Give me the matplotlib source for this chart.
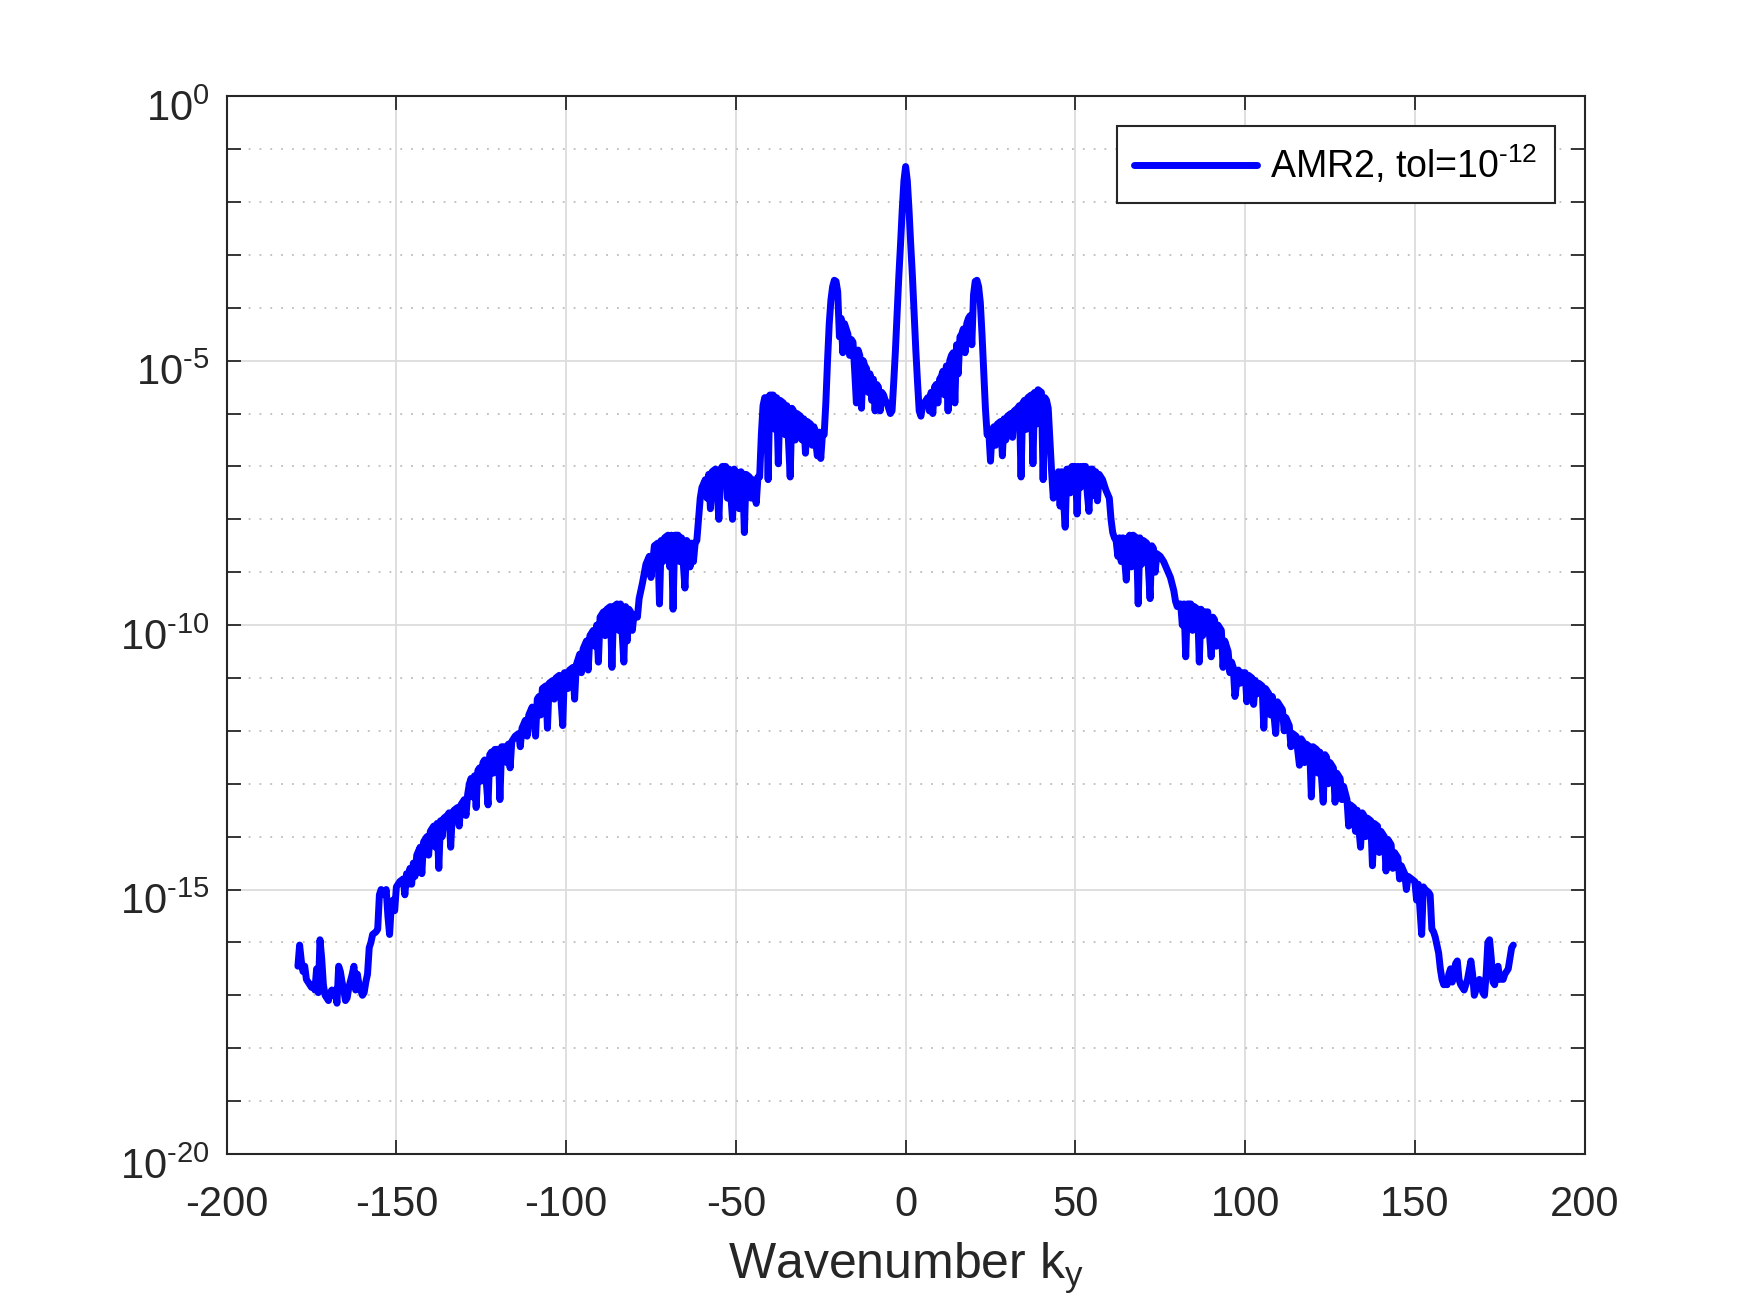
import numpy as np
import matplotlib
matplotlib.use("Agg")
import matplotlib.pyplot as plt
import matplotlib.transforms as mtransforms
from matplotlib.ticker import FixedLocator, NullFormatter

plt.rcParams["font.family"] = ["Liberation Sans", "DejaVu Sans"]
plt.rcParams["mathtext.fontset"] = "custom"
plt.rcParams["mathtext.rm"] = "Liberation Sans"
plt.rcParams["mathtext.it"] = "Liberation Sans"
plt.rcParams["mathtext.default"] = "regular"
plt.rcParams["axes.unicode_minus"] = False

# spectrum: wavenumber and log10(amplitude)
k_left = [
    -179.0, -178.5, -178.0, -177.5, -177.0, -176.5, -176.0, -175.0, -174.5, -174.0,
    -173.5, -173.0, -172.5, -172.0, -171.5, -171.0, -170.0, -169.5, -169.0, -168.5,
    -168.0, -167.5, -167.0, -166.5, -166.0, -165.5, -165.0, -164.5, -164.0, -163.0,
    -162.5, -162.0, -161.5, -161.0, -160.0, -159.5, -159.0, -158.5, -158.0, -157.5,
    -157.0, -156.0, -155.5, -155.0, -154.5, -154.0, -153.5, -153.0, -152.5, -152.0,
    -151.5, -151.0, -150.5, -150.0, -149.0, -148.0, -147.0, -146.5, -146.0, -145.0,
    -144.5, -144.0, -143.0, -142.5, -142.0, -141.0, -140.5, -140.0, -139.0, -138.5,
    -138.0, -137.5, -137.0, -136.0, -135.0, -134.5, -134.0, -133.5, -133.0, -132.0,
    -131.0, -130.0, -129.0, -128.5, -128.0, -127.5, -127.0, -126.5, -126.0, -125.5,
    -125.0, -124.5, -124.0, -123.0, -122.5, -122.0, -121.0, -120.0, -119.5, -119.0,
    -118.0, -117.0, -116.5, -116.0, -115.0, -114.0, -113.0, -112.0, -111.5, -111.0,
    -110.0, -109.0, -108.5, -108.0, -107.0, -106.0, -105.5, -105.0, -104.0, -103.0,
    -102.0, -101.0, -100.5, -100.0, -99.0, -98.0, -97.5, -97.0, -96.0, -95.0,
    -94.0, -93.5, -93.0, -92.0, -91.0, -90.5, -90.0, -89.0, -88.0, -87.0,
    -86.5, -86.0, -85.0, -84.0, -83.0, -82.5, -82.0, -81.5, -81.0, -80.0,
    -79.0, -78.5, -77.5, -76.5, -75.5, -75.0, -74.0, -73.0, -72.5, -72.0,
    -71.0, -70.0, -69.0, -68.5, -68.0, -67.0, -66.0, -65.0, -64.5, -64.0,
    -63.5, -63.0, -62.0, -61.5, -61.0, -60.5, -60.0, -59.0, -58.0, -57.5,
    -57.0, -56.0, -55.0, -54.5, -54.0, -53.0, -52.0, -51.0, -50.5, -50.0,
    -49.0, -48.5, -48.0, -47.5, -47.0, -46.0, -45.0, -44.0, -43.5, -43.0,
    -42.5, -42.0, -41.5, -41.0, -40.5, -40.0, -39.0, -38.0, -37.5, -37.0,
    -36.0, -35.0, -34.0, -33.5, -33.0, -32.0, -31.0, -30.0, -29.5, -29.0,
    -28.0, -27.0, -26.0, -25.5, -25.0, -24.5, -24.0, -23.5, -23.0, -22.5,
    -22.0, -21.5, -21.0, -20.5, -20.0, -19.5, -19.0, -18.5, -18.0, -17.5,
    -17.0, -16.5, -16.0, -15.5, -15.0, -14.5, -14.0, -13.5, -13.0, -12.5,
    -12.0, -11.5, -11.0, -10.5, -10.0, -9.5, -9.0, -8.5, -8.0, -7.5,
    -7.0, -6.5, -6.0, -5.5, -5.0, -4.5, -4.0, -3.5, -3.0, -2.5,
    -2.0, -1.5, -1.0, -0.5, 0.0,
]
log_left = [
    -16.45, -16.05, -16.35, -16.55, -16.45, -16.7, -16.75, -16.85, -16.8, -16.9,
    -16.5, -16.95, -15.95, -16.3, -16.8, -17.0, -17.1, -16.95, -16.9, -17.0,
    -16.9, -17.15, -16.45, -16.55, -16.75, -16.9, -17.1, -17.05, -16.85, -16.6,
    -16.45, -16.9, -16.6, -16.8, -17.0, -16.95, -16.75, -16.6, -16.1, -16.0,
    -15.85, -15.8, -15.75, -15.1, -15.0, -15.05, -15.1, -15.0, -15.5, -15.85,
    -15.3, -15.2, -15.4, -14.95, -14.85, -14.8, -14.7, -14.9, -14.6, -14.5,
    -14.75, -14.35, -14.2, -14.7, -14.1, -14.0, -14.35, -13.9, -13.8, -14.2,
    -13.75, -14.6, -13.7, -13.65, -13.6, -13.55, -14.2, -13.55, -13.5, -13.45,
    -13.4, -13.3, -13.2, -13.0, -12.9, -13.25, -12.85, -13.45, -12.75, -12.7,
    -12.95, -12.6, -12.55, -13.4, -12.45, -12.4, -12.35, -12.35, -13.3, -12.3,
    -12.3, -12.25, -12.7, -12.2, -12.1, -12.05, -11.95, -11.8, -12.1, -11.7,
    -11.55, -12.1, -11.4, -11.35, -11.2, -11.15, -11.95, -11.1, -11.05, -11.0,
    -10.95, -11.9, -10.9, -10.9, -10.85, -10.8, -11.4, -10.75, -10.55, -10.45,
    -10.3, -10.85, -10.2, -10.1, -10.0, -10.7, -9.85, -9.75, -9.7, -9.65,
    -10.8, -9.65, -9.6, -9.6, -10.7, -9.65, -10.3, -9.7, -9.75, -9.8,
    -9.85, -9.5, -9.2, -8.85, -8.7, -9.1, -8.5, -8.45, -9.6, -8.4,
    -8.35, -8.3, -8.3, -9.7, -8.3, -8.3, -8.35, -9.3, -8.4, -8.45,
    -8.9, -8.45, -8.45, -8.4, -8.0, -7.6, -7.4, -7.25, -7.15, -7.8,
    -7.1, -7.05, -8.0, -7.05, -7.0, -7.0, -7.05, -8.0, -7.05, -7.1,
    -7.8, -7.1, -7.15, -8.25, -7.15, -7.2, -7.25, -7.7, -7.2, -7.2,
    -6.4, -5.85, -5.7, -5.7, -7.25, -5.65, -5.65, -5.7, -6.95, -5.75,
    -5.8, -5.85, -7.2, -5.9, -5.95, -6.0, -6.05, -6.1, -6.75, -6.15,
    -6.2, -6.25, -6.8, -6.35, -6.85, -6.4, -6.4, -5.8, -5.0, -4.3,
    -3.85, -3.6, -3.48, -3.5, -3.7, -4.55, -4.2, -4.85, -4.3, -4.4,
    -4.5, -4.9, -4.6, -4.65, -5.2, -5.8, -4.8, -4.9, -5.9, -5.0,
    -5.1, -5.15, -5.6, -5.25, -5.75, -5.35, -5.95, -5.45, -5.5, -5.95,
    -5.6, -5.65, -5.75, -5.8, -5.9, -6.0, -5.95, -5.4, -4.8, -4.1,
    -3.4, -2.8, -2.15, -1.6, -1.33,
]
k_right = [
    0.5, 1.0, 1.5, 2.0, 2.5, 3.0, 3.5, 4.0, 4.5, 5.0,
    5.5, 6.0, 6.5, 7.0, 7.5, 8.0, 8.5, 9.0, 9.5, 10.0,
    10.5, 11.0, 11.5, 12.0, 12.5, 13.0, 13.5, 14.0, 14.5, 15.0,
    15.5, 16.0, 16.5, 17.0, 17.5, 18.0, 18.5, 19.0, 19.5, 20.0,
    20.5, 21.0, 21.5, 22.0, 22.5, 23.0, 23.5, 24.0, 24.5, 25.0,
    25.5, 26.0, 27.0, 28.0, 28.5, 29.0, 30.0, 31.0, 32.0, 33.0,
    33.5, 34.0, 34.5, 35.0, 36.0, 37.0, 37.5, 38.0, 39.0, 40.0,
    40.5, 41.0, 41.5, 42.0, 42.5, 43.0, 43.5, 44.0, 45.0, 45.5,
    46.0, 47.0, 47.5, 48.0, 49.0, 50.0, 50.5, 51.0, 52.0, 53.0,
    54.0, 54.5, 55.0, 56.0, 56.5, 57.0, 58.0, 59.0, 60.0, 60.5,
    61.0, 61.5, 62.0, 62.5, 63.0, 64.0, 65.0, 65.5, 66.0, 67.0,
    68.0, 68.5, 69.0, 70.0, 71.0, 72.0, 72.5, 73.0, 74.0, 75.0,
    76.0, 77.0, 78.0, 79.0, 79.5, 80.0, 80.5, 81.0, 82.0, 82.5,
    83.0, 84.0, 85.0, 86.0, 86.5, 87.0, 88.0, 89.0, 90.0, 90.5,
    91.0, 92.0, 93.0, 93.5, 94.0, 95.0, 96.0, 96.5, 97.0, 98.0,
    99.0, 100.0, 100.5, 101.0, 102.0, 103.0, 104.0, 105.0, 105.5, 106.0,
    107.0, 108.0, 109.0, 109.5, 110.0, 111.0, 112.0, 113.0, 114.0, 115.0,
    116.0, 116.5, 117.0, 118.0, 119.0, 119.5, 120.0, 121.0, 122.0, 123.0,
    123.5, 124.0, 125.0, 126.0, 126.5, 127.0, 128.0, 129.0, 130.0, 131.0,
    132.0, 133.0, 134.0, 134.5, 135.0, 136.0, 137.0, 137.5, 138.0, 139.0,
    140.0, 141.0, 141.5, 142.0, 143.0, 144.0, 145.0, 146.0, 147.0, 148.0,
    149.0, 150.0, 150.5, 151.0, 152.0, 152.5, 153.0, 154.0, 154.5, 155.0,
    155.5, 156.0, 157.0, 157.5, 158.0, 158.5, 159.0, 159.5, 160.0, 160.5,
    161.0, 162.0, 162.5, 163.0, 163.5, 164.0, 164.5, 165.5, 166.5, 167.0,
    167.5, 168.0, 169.0, 169.5, 170.0, 170.5, 171.0, 171.5, 172.0, 172.5,
    173.0, 173.5, 174.0, 174.5, 175.0, 175.5, 176.0, 176.5, 177.0, 177.5,
    178.0, 178.5, 179.0,
]
log_right = [
    -1.6, -2.15, -2.8, -3.4, -4.1, -4.8, -5.4, -5.95, -6.05, -5.85,
    -5.8, -5.75, -5.7, -5.95, -5.6, -6.0, -5.5, -5.45, -5.8, -5.35,
    -5.3, -5.2, -5.65, -5.1, -5.95, -5.0, -4.9, -4.85, -5.8, -4.7,
    -5.25, -4.55, -4.5, -4.4, -4.85, -4.3, -4.2, -4.15, -4.7, -3.75,
    -3.5, -3.48, -3.6, -3.9, -4.5, -5.2, -5.9, -6.4, -6.35, -6.9,
    -6.3, -6.25, -6.2, -6.15, -6.8, -6.1, -6.05, -6.0, -5.95, -5.9,
    -5.85, -7.2, -5.8, -5.75, -5.7, -5.65, -6.95, -5.6, -5.55, -5.6,
    -7.25, -5.7, -5.75, -5.9, -6.5, -7.1, -7.6, -7.15, -7.1, -7.75,
    -7.1, -8.15, -7.05, -7.05, -7.0, -7.0, -7.9, -7.0, -7.0, -7.0,
    -7.85, -7.05, -7.05, -7.1, -7.65, -7.15, -7.25, -7.45, -7.6, -8.0,
    -8.25, -8.35, -8.4, -8.7, -8.35, -8.35, -9.15, -8.35, -8.3, -8.3,
    -8.35, -9.6, -8.35, -8.4, -8.45, -9.5, -8.5, -8.55, -8.65, -8.7,
    -8.8, -8.95, -9.1, -9.35, -9.55, -9.65, -9.6, -9.6, -9.6, -10.6,
    -9.6, -9.6, -9.65, -9.7, -10.7, -9.7, -9.75, -9.75, -10.6, -9.85,
    -9.9, -10.0, -10.1, -10.8, -10.3, -10.5, -10.7, -10.8, -11.35, -10.85,
    -10.9, -10.9, -11.45, -10.95, -11.0, -11.05, -11.1, -11.15, -11.95, -11.2,
    -11.3, -11.35, -12.05, -11.45, -11.5, -11.6, -11.75, -11.9, -12.05, -12.1,
    -12.65, -12.15, -12.2, -12.25, -12.3, -13.25, -12.3, -12.35, -12.4, -13.35,
    -12.45, -12.5, -12.6, -12.7, -13.35, -12.8, -12.9, -13.05, -13.3, -13.4,
    -13.45, -13.5, -14.2, -13.55, -13.6, -13.65, -13.7, -14.55, -13.75, -13.8,
    -13.9, -14.0, -14.65, -14.05, -14.15, -14.3, -14.4, -14.55, -14.7, -14.75,
    -14.8, -14.85, -15.2, -14.9, -15.85, -14.95, -15.0, -15.05, -15.1, -15.75,
    -15.8, -15.9, -16.2, -16.5, -16.7, -16.8, -16.75, -16.8, -16.6, -16.5,
    -16.75, -16.4, -16.35, -16.7, -16.8, -16.85, -16.9, -16.7, -16.35, -16.6,
    -17.0, -16.9, -16.7, -16.75, -16.95, -17.0, -16.6, -16.0, -15.95, -16.3,
    -16.75, -16.8, -16.5, -16.45, -16.7, -16.65, -16.7, -16.6, -16.55, -16.5,
    -16.3, -16.1, -16.05,
]
# extra small dips read on the plateaus
k_dips = [
    -147.5, -145.5, -136.5, -131.5, -129.5, -121.5, -117.5, -113.5, -107.5, -103.5,
    -99.5, -95.5, -91.5, -88.5, -84.5, -80.5, -71.5, -69.5, -66.5, -62.5,
    -58.5, -55.5, -52.5, -49.5, -45.5, -38.5, -35.5, -32.5, -30.5, -27.5,
    26.5, 29.5, 31.5, 35.5, 38.5, 44.5, 48.5, 51.5, 53.5, 55.5,
    63.5, 66.5, 69.5, 71.5, 73.5, 81.5, 84.5, 87.5, 91.5, 95.5,
    98.5, 102.5, 103.5, 107.5, 111.5, 113.5, 117.5, 121.5, 124.5, 128.5,
    130.5, 132.5, 135.5, 139.5, 143.5, 145.5, 147.5,
]
log_dips = [
    -15.1, -14.9, -14.0, -13.8, -13.6, -12.8, -12.6, -12.3, -11.7, -11.4,
    -11.2, -10.9, -10.4, -10.2, -10.1, -10.1, -8.8, -8.9, -8.8, -8.8,
    -7.6, -7.5, -7.6, -7.5, -7.6, -6.3, -6.4, -6.5, -6.5, -6.6,
    -6.6, -6.5, -6.45, -6.3, -6.2, -7.5, -7.5, -7.4, -7.5, -7.55,
    -8.8, -8.9, -8.85, -8.9, -9.0, -10.0, -10.1, -10.2, -10.4, -10.9,
    -11.1, -11.5, -11.3, -11.7, -12.0, -12.3, -12.6, -12.8, -13.0, -13.3,
    -13.8, -13.9, -14.0, -14.3, -14.6, -14.8, -15.0,
]

x_ticks = [-200, -150, -100, -50, 0, 50, 100, 150, 200]
y_major = [-20, -15, -10, -5, 0]
legend_label = "AMR2, tol=$10^{\u201012}$"
x_label = "Wavenumber k$_y$"

kv = np.array(k_left + k_right + k_dips)
lg = np.array(log_left + log_right + log_dips)
order = np.argsort(kv, kind="stable")
kv = kv[order]
amp = 10.0 ** lg[order]

TXT = "#262626"
fig = plt.figure(figsize=(17.5, 13.02), dpi=100)
ax = fig.add_axes([0.1295, 0.1137, 0.776, 0.8124])

ax.semilogy(kv, amp, color=(0, 0, 1), lw=5.0, label=legend_label,
            solid_joinstyle="round", solid_capstyle="round")

ax.set_xlim(-200, 200)
ax.set_ylim(1e-20, 1e0)
ax.set_xticks(x_ticks)
ax.set_xticklabels([str(t) for t in x_ticks])
ax.yaxis.set_major_locator(FixedLocator([10.0 ** e for e in y_major]))
ax.set_yticklabels(["$10^{%s}$" % str(e).replace("-", "\u2010") for e in y_major])
minor = [10.0 ** e for e in range(-19, 0) if e % 5 != 0]
ax.yaxis.set_minor_locator(FixedLocator(minor))
ax.yaxis.set_minor_formatter(NullFormatter())
ax.xaxis.set_minor_locator(FixedLocator([]))

ax.grid(True, which="major", color="#dcdcdc", lw=1.3, ls="-")
ax.grid(True, which="minor", axis="y", color="#bdbdbd", lw=1.3, ls=(0, (1, 5)))
ax.set_axisbelow(True)

ax.tick_params(which="both", direction="in", top=True, right=True,
               length=10, width=1.3, color=TXT, labelcolor=TXT, labelsize=30)
ax.tick_params(axis="x", pad=22)
ax.tick_params(axis="y", pad=12)
for s in ax.spines.values():
    s.set_color(TXT)
    s.set_linewidth(1.5)

# MATLAB puts the "10" of each y label a little below the tick
off = mtransforms.ScaledTranslation(0, -0.09, fig.dpi_scale_trans)
for lab in ax.get_yticklabels():
    lab.set_transform(lab.get_transform() + off)

ax.set_xlabel(x_label, fontsize=36, color=TXT, labelpad=12)

leg = ax.legend(loc="upper right", fontsize=27, fancybox=False, framealpha=1,
                edgecolor=TXT, borderaxespad=0.8, handlelength=3.3,
                handletextpad=0.35, borderpad=0.45)
leg.get_frame().set_linewidth(1.5)

fig.savefig("out.png", dpi=100, facecolor="white")
